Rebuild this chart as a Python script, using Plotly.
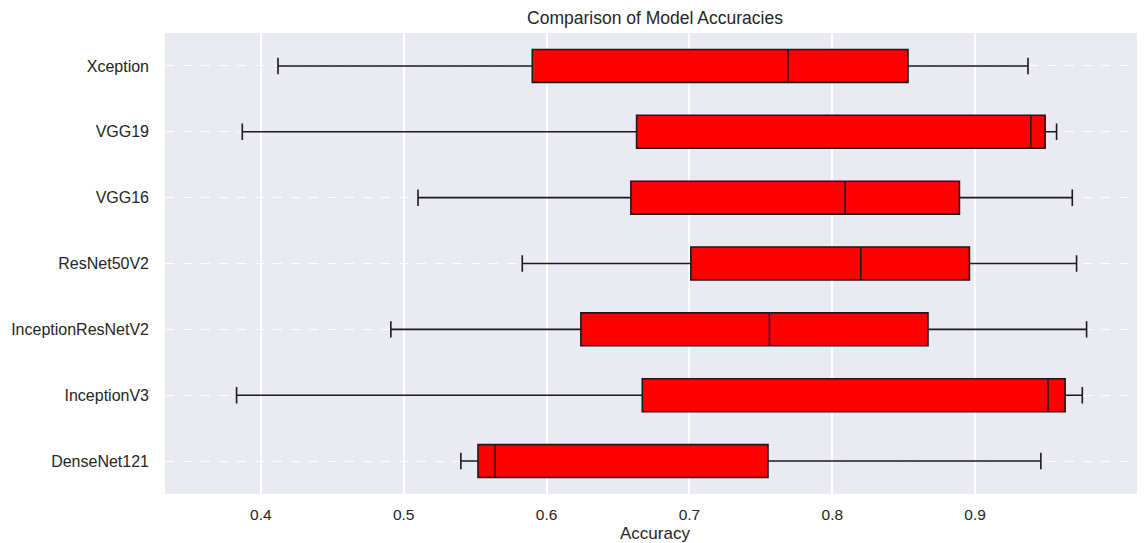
import plotly.graph_objects as go

models = ["DenseNet121", "InceptionV3", "InceptionResNetV2", "ResNet50V2", "VGG16", "VGG19", "Xception"]
lower = [0.540, 0.383, 0.491, 0.583, 0.510, 0.387, 0.412]
q1 = [0.552, 0.667, 0.624, 0.701, 0.659, 0.663, 0.590]
median = [0.564, 0.951, 0.756, 0.820, 0.809, 0.939, 0.769]
q3 = [0.755, 0.963, 0.867, 0.896, 0.889, 0.949, 0.853]
upper = [0.946, 0.975, 0.978, 0.971, 0.968, 0.957, 0.937]
x_ticks = [0.4, 0.5, 0.6, 0.7, 0.8, 0.9]

fig = go.Figure()
fig.add_trace(go.Box(
    y=models, q1=q1, median=median, q3=q3,
    lowerfence=lower, upperfence=upper,
    orientation="h",
    fillcolor="#FF0000",
    line=dict(color="#1a1a1a", width=1.6),
    whiskerwidth=0.5,
    width=0.5,
    boxpoints=False,
    hoverinfo="x+y",
    showlegend=False,
))

# page body has an 8px default margin, so the figure is 8px smaller and shifted
W, H = 1137, 535
font_family = "Liberation Sans, Arial, sans-serif"
fig.update_layout(
    width=W, height=H,
    paper_bgcolor="white",
    plot_bgcolor="#EAEAF2",
    margin=dict(l=157, r=0, t=25, b=49),
    font=dict(family=font_family, color="#262626", size=16),
    title=dict(text="Comparison of Model Accuracies", x=(157 + W) / 2 / W, xanchor="center",
               y=1 - 10 / H, yanchor="middle", font=dict(size=17.5, color="#262626")),
    xaxis=dict(
        range=[0.3329, 1.0189],
        tickvals=x_ticks,
        ticktext=[str(v) for v in x_ticks],
        showgrid=True, gridcolor="white", gridwidth=1.5,
        zeroline=False, showline=False,
        ticks="", ticklabelstandoff=9,
        title=dict(text="Accuracy", font=dict(size=17, color="#262626"), standoff=6),
        tickfont=dict(size=15.5, color="#262626"),
    ),
    yaxis=dict(
        categoryorder="array", categoryarray=models,
        range=[-0.5, 6.5],
        showgrid=True, gridcolor="white", gridwidth=1.2, griddash="dash",
        zeroline=False, showline=False,
        ticks="", ticklabelstandoff=15,
        tickfont=dict(size=16, color="#262626"),
    ),
)

fig.write_html("out.html")
